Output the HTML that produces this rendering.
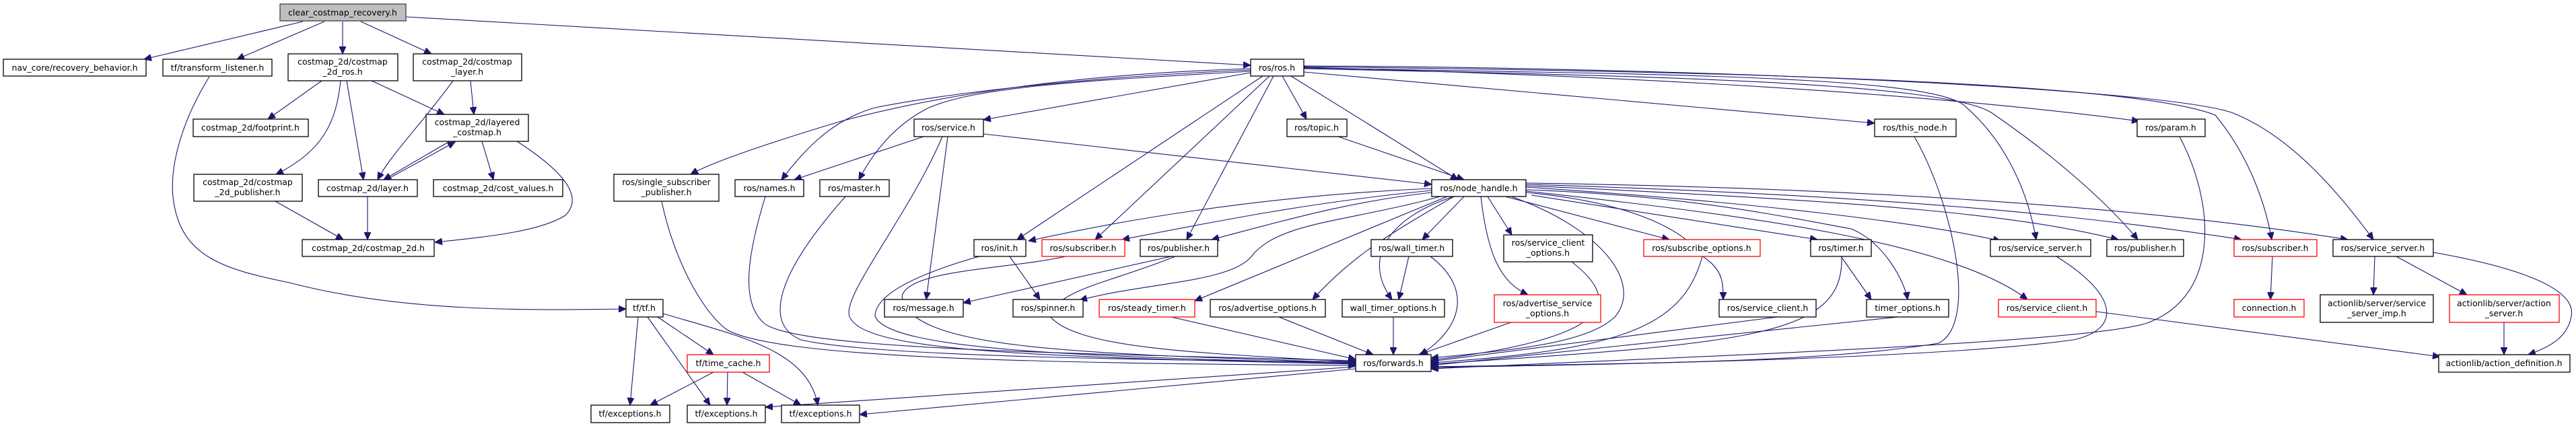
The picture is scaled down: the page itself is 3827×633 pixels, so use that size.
<!DOCTYPE html>
<html><head><meta charset="utf-8"><style>
html,body{margin:0;padding:0;background:#fff;}
svg{display:block;}
text{font-family:"DejaVu Sans","Liberation Sans",sans-serif;font-size:12.5px;fill:#000;text-anchor:middle;}
rect{fill:#fff;stroke:#000;stroke-width:1.3;}
rect.r{stroke:#f00;}
rect.g{fill:#bfbfbf;stroke:#404040;}
path.e{fill:none;stroke:#191970;stroke-width:1.1;}
</style></head><body>
<svg id="s" width="3827" height="633" viewBox="0 0 3827 633" xmlns="http://www.w3.org/2000/svg">
<defs><marker id="a" markerWidth="12" markerHeight="10" refX="11" refY="5" orient="auto" markerUnits="userSpaceOnUse"><path d="M0,0 L11,5 L0,10 z" fill="#191970" stroke="#191970"/></marker></defs>
<g id="edges"></g>
<g id="nodes">
<rect class="g" x="416" y="6" width="187" height="25"/><text x="509" y="23">clear_costmap_recovery.h</text>
<rect x="5" y="88" width="212" height="25"/><text x="111" y="105">nav_core/recovery_behavior.h</text>
<rect x="242" y="88" width="162" height="25"/><text x="323" y="105">tf/transform_listener.h</text>
<rect x="428" y="80" width="163" height="40"/><text x="509" y="96">costmap_2d/costmap</text><text x="509" y="111">_2d_ros.h</text>
<rect x="614" y="80" width="161" height="40"/><text x="694" y="96">costmap_2d/costmap</text><text x="694" y="111">_layer.h</text>
<rect x="287" y="177" width="171" height="26"/><text x="372" y="194">costmap_2d/footprint.h</text>
<rect x="633" y="170" width="152" height="40"/><text x="709" y="186">costmap_2d/layered</text><text x="709" y="201">_costmap.h</text>
<rect x="288" y="259" width="161" height="40"/><text x="368" y="275">costmap_2d/costmap</text><text x="368" y="290">_2d_publisher.h</text>
<rect x="473" y="267" width="147" height="25"/><text x="546" y="284">costmap_2d/layer.h</text>
<rect x="644" y="267" width="192" height="25"/><text x="740" y="284">costmap_2d/cost_values.h</text>
<rect x="449" y="356" width="196" height="25"/><text x="547" y="373">costmap_2d/costmap_2d.h</text>
<rect x="912" y="259" width="156" height="40"/><text x="990" y="275">ros/single_subscriber</text><text x="990" y="290">_publisher.h</text>
<rect x="930" y="445" width="55" height="26"/><text x="957" y="462">tf/tf.h</text>
<rect x="878" y="602" width="117" height="26"/><text x="936" y="619">tf/exceptions.h</text>
<rect x="1858" y="88" width="79" height="25"/><text x="1897" y="105">ros/ros.h</text>
<rect x="1358" y="177" width="103" height="26"/><text x="1409" y="194">ros/service.h</text>
<rect x="1092" y="267" width="102" height="25"/><text x="1143" y="284">ros/names.h</text>
<rect x="1218" y="267" width="103" height="25"/><text x="1269" y="284">ros/master.h</text>
<rect x="1447" y="356" width="77" height="25"/><text x="1485" y="373">ros/init.h</text>
<rect class="r" x="1548" y="356" width="123" height="25"/><text x="1609" y="373">ros/subscriber.h</text>
<rect x="1694" y="356" width="115" height="25"/><text x="1751" y="373">ros/publisher.h</text>
<rect x="1314" y="445" width="117" height="26"/><text x="1372" y="462">ros/message.h</text>
<rect x="1505" y="445" width="104" height="26"/><text x="1557" y="462">ros/spinner.h</text>
<rect class="r" x="1633" y="445" width="142" height="26"/><text x="1704" y="462">ros/steady_timer.h</text>
<rect x="1798" y="445" width="171" height="26"/><text x="1883" y="462">ros/advertise_options.h</text>
<rect class="r" x="1021" y="527" width="122" height="26"/><text x="1082" y="544">tf/time_cache.h</text>
<rect x="1021" y="602" width="116" height="26"/><text x="1079" y="619">tf/exceptions.h</text>
<rect x="1161" y="602" width="116" height="26"/><text x="1219" y="619">tf/exceptions.h</text>
<rect x="2014" y="527" width="112" height="25"/><text x="2070" y="544">ros/forwards.h</text>
<rect x="1912" y="177" width="89" height="26"/><text x="1956" y="194">ros/topic.h</text>
<rect x="2127" y="267" width="140" height="25"/><text x="2197" y="284">ros/node_handle.h</text>
<rect x="2785" y="177" width="121" height="26"/><text x="2845" y="194">ros/this_node.h</text>
<rect x="2037" y="356" width="121" height="25"/><text x="2097" y="373">ros/wall_timer.h</text>
<rect x="2234" y="349" width="132" height="40"/><text x="2300" y="365">ros/service_client</text><text x="2300" y="380">_options.h</text>
<rect class="r" x="2442" y="356" width="173" height="25"/><text x="2528" y="373">ros/subscribe_options.h</text>
<rect x="2690" y="356" width="90" height="25"/><text x="2735" y="373">ros/timer.h</text>
<rect x="1994" y="445" width="152" height="26"/><text x="2070" y="462">wall_timer_options.h</text>
<rect class="r" x="2220" y="438" width="158" height="41"/><text x="2299" y="455">ros/advertise_service</text><text x="2299" y="470">_options.h</text>
<rect x="2554" y="445" width="144" height="26"/><text x="2626" y="462">ros/service_client.h</text>
<rect x="2773" y="445" width="122" height="26"/><text x="2834" y="462">timer_options.h</text>
<rect x="3175" y="177" width="101" height="26"/><text x="3225" y="194">ros/param.h</text>
<rect x="2957" y="356" width="149" height="25"/><text x="3031" y="373">ros/service_server.h</text>
<rect x="3130" y="356" width="114" height="25"/><text x="3187" y="373">ros/publisher.h</text>
<rect class="r" x="3319" y="356" width="123" height="25"/><text x="3380" y="373">ros/subscriber.h</text>
<rect x="3466" y="356" width="149" height="25"/><text x="3540" y="373">ros/service_server.h</text>
<rect class="r" x="2969" y="445" width="145" height="26"/><text x="3041" y="462">ros/service_client.h</text>
<rect class="r" x="3319" y="445" width="104" height="26"/><text x="3371" y="462">connection.h</text>
<rect x="3447" y="438" width="168" height="41"/><text x="3531" y="455">actionlib/server/service</text><text x="3531" y="470">_server_imp.h</text>
<rect class="r" x="3639" y="438" width="163" height="41"/><text x="3720" y="455">actionlib/server/action</text><text x="3720" y="470">_server.h</text>
<rect x="3623" y="527" width="195" height="26"/><text x="3720" y="544">actionlib/action_definition.h</text>
</g>
</svg>
<script>
var E=[
"M450,32 L214,88","M482,32 L352,88","M509,32 L509,80","M536,32 L641,80","M603,25 L1858,97",
"M311,114 C270,180 250,250 258,300 C270,380 330,400 430,420 C600,465 800,461 930,459",
"M478,120 L398,177","M506,120 C500,180 480,225 410,259","M515,120 L540,267","M552,120 L660,170",
"M673,120 C630,180 580,230 561,267","M699,120 L704,170",
"M668,210 L570,267","M574,267 L676,211","M716,210 L733,267",
"M768,210 C830,250 870,290 840,320 C800,345 720,352 646,360",
"M546,292 L546,356","M409,299 L510,356",
"M1858,102 C1600,110 1400,140 1250,180 C1150,210 1060,240 1026,259",
"M1858,104 C1600,115 1400,140 1300,160 C1230,180 1190,230 1161,267",
"M1858,106 C1600,120 1450,130 1380,160 C1320,190 1290,240 1276,267",
"M1858,108 L1461,178","M1876,113 L1511,356","M1886,113 L1627,356","M1892,113 L1763,356",
"M1905,113 L1941,177","M1918,113 L2166,267","M1937,107 L2785,183",
"M1937,100 C2300,110 2800,130 3178,180",
"M1937,101 C2400,110 2850,110 2916,155 C2970,200 3010,270 3025,356",
"M1937,102 C2400,112 2880,120 2958,167 C3050,230 3130,300 3176,356",
"M1937,99 C2400,105 3150,115 3291,171 C3340,230 3365,300 3375,356",
"M1937,98 C2500,100 3200,130 3315,167 C3400,200 3470,280 3526,356",
"M1461,199 L2127,274","M1372,203 L1180,267","M1408,203 L1376,445",
"M1400,203 C1350,320 1250,440 1262,470 C1280,520 1500,530 2014,541",
"M1988,203 L2175,267",
"M1137,292 C1110,380 1100,450 1135,480 C1180,520 1600,525 2014,536",
"M1256,292 C1160,400 1130,480 1190,505 C1300,530 1700,535 2014,538",
"M983,299 C1000,380 1040,460 1080,490 C1150,530 1500,540 2014,543",
"M2127,280 C1900,290 1700,320 1528,358",
"M2127,283 C1950,300 1800,330 1667,356",
"M2127,286 C2000,300 1900,330 1800,356",
"M2140,292 C2000,330 1900,330 1860,380 C1830,420 1700,420 1604,446",
"M2150,292 L1775,447","M2160,292 C2060,350 2010,380 1950,445",
"M2175,292 L2113,356","M2160,292 C2070,320 2020,380 2068,445",
"M2093,381 L2078,445",
"M2210,292 L2246,349","M2200,292 C2210,380 2230,420 2270,438",
"M2236,292 L2480,356","M2275,290 L2700,356",
"M2267,286 C2420,300 2500,340 2528,380 C2560,400 2560,420 2560,445",
"M2267,282 C2500,290 2640,320 2750,340 C2800,360 2830,420 2834,445",
"M2267,278 C2600,300 2850,330 2972,358",
"M2267,276 C2800,300 3000,320 3147,356",
"M2267,274 C2800,290 3100,320 3330,356",
"M2267,272 C2800,280 3200,310 3488,356",
"M2267,284 C2600,320 2900,360 3012,445",
"M2245,292 C2380,340 2440,420 2400,470 C2360,510 2250,520 2126,532",
"M2125,381 C2190,430 2170,490 2110,527","M2335,389 C2400,440 2420,500 2126,535",
"M1524,364 C1450,380 1300,420 1300,470 C1320,520 1600,530 2014,540",
"M1583,381 C1500,400 1350,400 1340,440 C1350,520 1600,525 2014,539",
"M1746,381 C1650,420 1570,430 1560,470 C1600,520 1800,525 2014,538",
"M1740,381 L1431,450","M1500,381 L1545,445",
"M1740,471 L2014,534","M1900,471 L2040,527","M2070,471 L2070,527",
"M2245,479 L2108,527","M2529,381 C2500,490 2400,520 2126,539",
"M2735,381 L2780,445","M2736,381 C2740,500 2600,510 2126,541",
"M2640,471 L2126,537","M2820,471 L2126,543","M2844,203 C2900,300 2940,480 2880,510 C2700,540 2400,540 2126,545",
"M3238,203 C3290,300 3300,440 3190,480 C3100,510 2500,530 2126,548",
"M3055,381 C3150,440 3150,490 3080,505 C2900,530 2500,540 2126,546",
"M2014,545 L1137,605","M2014,548 L1277,616",
"M948,471 L936,602","M962,471 L1055,602","M977,471 L1060,527","M985,466 C1100,500 1200,520 1215,602",
"M1060,553 L966,602","M1081,553 L1080,602","M1103,553 L1190,602",
"M3376,381 L3373,445","M3528,381 L3526,438","M3560,381 L3665,438","M3720,479 L3720,527",
"M3615,375 C3700,390 3830,420 3820,470 C3815,500 3790,515 3756,527","M3114,463 L3625,530"
];
var g=document.getElementById('edges'),h='';
E.forEach(function(d){h+='<path class="e" d="'+d+'" marker-end="url(#a)"/>';});
g.innerHTML=h;
</script>
</body></html>
